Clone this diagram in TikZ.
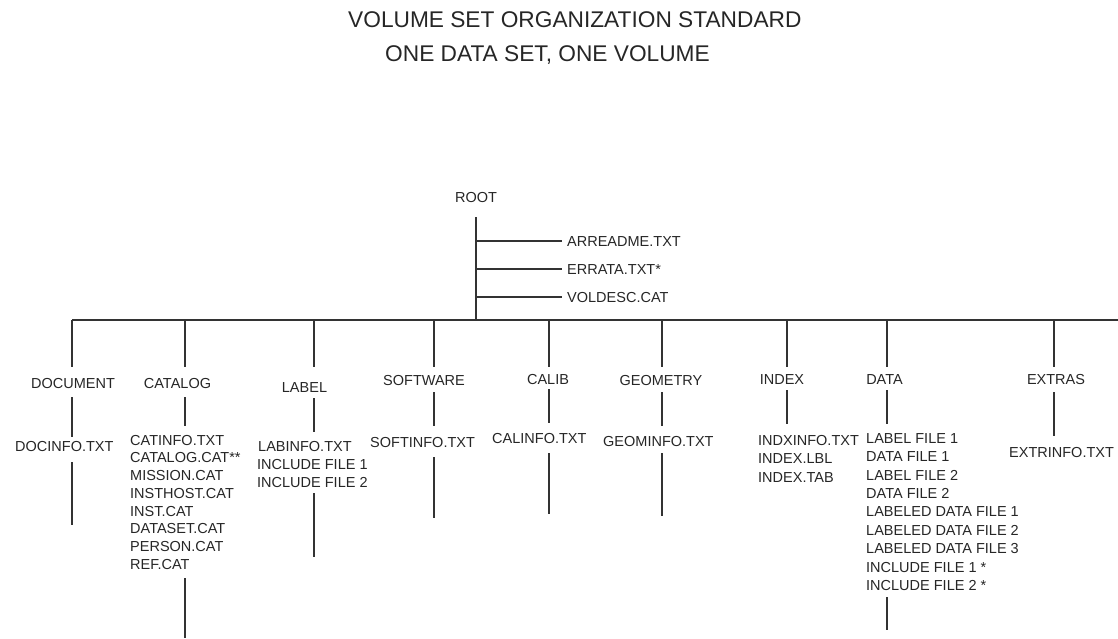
\documentclass[tikz,border=0pt]{standalone}
\usepackage{fontspec}
\setmainfont{Liberation Sans}
\begin{document}
\begin{tikzpicture}[x=1pt,y=-1pt,
  ink/.style={black!85},
  wire/.style={draw=black!80, line width=1.2pt},
  txt/.style={font=\fontsize{14.5}{17}\selectfont, text=black!85, inner sep=0pt, text height=10.4pt, text depth=0pt},
  ttl/.style={font=\fontsize{22.7}{26}\selectfont, text=black!85, inner sep=0pt, anchor=base west},
  fl/.style={txt, anchor=west}]
\useasboundingbox (0,0) rectangle (1118,639);
% title
\node[ttl] (t1) at (348,28) {VOLUME SET ORGANIZATION STANDARD};
\node[ttl] (t2) at (385,62) {ONE DATA SET, ONE VOLUME};
% root
\node[txt] (ROOT) at (476,197) {ROOT};
\coordinate (rb) at (476,320);
\draw[wire, shorten <=14.8pt] (ROOT.south) -- (rb);
\node[fl] (AR) at (567,241) {ARREADME.TXT};
\node[fl] (ER) at (567,269) {ERRATA.TXT*};
\node[fl] (VO) at (567,297) {VOLDESC.CAT};
\coordinate (r1) at (476,241);
\coordinate (r2) at (476,269);
\coordinate (r3) at (476,297);
\draw[wire, shorten >=5pt] (r1) -- (AR.west);
\draw[wire, shorten >=5pt] (r2) -- (ER.west);
\draw[wire, shorten >=5pt] (r3) -- (VO.west);
% bus
\coordinate (bL) at (72,320);
\coordinate (bR) at (1118,320);
\draw[wire] (bL) -- (bR);
% column bus points
\coordinate (cDOC) at (72,320);
\coordinate (cCAT) at (185,320);
\coordinate (cLAB) at (314,320);
\coordinate (cSOF) at (434,320);
\coordinate (cCAL) at (549,320);
\coordinate (cGEO) at (662,320);
\coordinate (cIND) at (787,320);
\coordinate (cDAT) at (887,320);
\coordinate (cEXT) at (1054,320);
% labels
\node[txt] (DOC) at (73,383) {DOCUMENT};
\node[txt] (CAT) at (177.5,383) {CATALOG};
\node[txt] (LAB) at (304.5,387) {LABEL};
\node[txt] (SOF) at (424,380) {SOFTWARE};
\node[txt] (CAL) at (548,379) {CALIB};
\node[txt] (GEO) at (661,380) {GEOMETRY};
\node[txt] (IND) at (782,379) {INDEX};
\node[txt] (DAT) at (884.5,379) {DATA};
\node[txt] (EXT) at (1056,379) {EXTRAS};
% files
\node[fl] (doc1) at (15,446) {DOCINFO.TXT};
\foreach \t [count=\i from 0] in {CATINFO.TXT,CATALOG.CAT**,MISSION.CAT,INSTHOST.CAT,INST.CAT,DATASET.CAT,PERSON.CAT,REF.CAT}
  \node[fl] (cat\i) at (130,440+17.7*\i) {\t};
\node[fl] (lab0) at (258,446) {LABINFO.TXT};
\node[fl] (lab1) at (257,464) {INCLUDE FILE 1};
\node[fl] (lab2) at (257,482) {INCLUDE FILE 2};
\node[fl] (sof0) at (370,442) {SOFTINFO.TXT};
\node[fl] (cal0) at (492,438) {CALINFO.TXT};
\node[fl] (geo0) at (603,441) {GEOMINFO.TXT};
\node[fl] (ind0) at (758,440) {INDXINFO.TXT};
\node[fl] (ind1) at (758,458) {INDEX.LBL};
\node[fl] (ind2) at (758,477) {INDEX.TAB};
\foreach \t [count=\i from 0] in {LABEL FILE 1,DATA FILE 1,LABEL FILE 2,DATA FILE 2,LABELED DATA FILE 1,LABELED DATA FILE 2,LABELED DATA FILE 3,INCLUDE FILE 1 *,INCLUDE FILE 2 *}
  \node[fl] (dat\i) at (866,438+18.4*\i) {\t};
\node[fl] (ext0) at (1009,452) {EXTRINFO.TXT};
% free ends
\coordinate (eDOC) at (72,525);
\coordinate (eCAT) at (185,638);
\coordinate (eLAB) at (314,557);
\coordinate (eSOF) at (434,518);
\coordinate (eCAL) at (549,514);
\coordinate (eGEO) at (662,516);
\coordinate (eDAT) at (887,630);
% DOCUMENT
\draw[wire, shorten >=10.8pt] (cDOC) -- (cDOC |- DOC.north);
\draw[wire, shorten <=8.8pt, shorten >=3.8pt] (cDOC |- DOC.south) -- (cDOC |- doc1.north);
\draw[wire, shorten <=10.8pt] (cDOC |- doc1.south) -- (eDOC);
% CATALOG
\draw[wire, shorten >=10.8pt] (cCAT) -- (cCAT |- CAT.north);
\draw[wire, shorten <=8.8pt, shorten >=8.8pt] (cCAT |- CAT.south) -- (cCAT |- cat0.north);
\draw[wire, shorten <=8.9pt] (cCAT |- cat7.south) -- (eCAT);
% LABEL
\draw[wire, shorten >=14.8pt] (cLAB) -- (cLAB |- LAB.north);
\draw[wire, shorten <=5.8pt, shorten >=8.8pt] (cLAB |- LAB.south) -- (cLAB |- lab0.north);
\draw[wire, shorten <=5.8pt] (cLAB |- lab2.south) -- (eLAB);
% SOFTWARE
\draw[wire, shorten >=7.8pt] (cSOF) -- (cSOF |- SOF.north);
\draw[wire, shorten <=6.8pt, shorten >=10.8pt] (cSOF |- SOF.south) -- (cSOF |- sof0.north);
\draw[wire, shorten <=9.8pt] (cSOF |- sof0.south) -- (eSOF);
% CALIB
\draw[wire, shorten >=6.8pt] (cCAL) -- (cCAL |- CAL.north);
\draw[wire, shorten <=4.8pt, shorten >=9.8pt] (cCAL |- CAL.south) -- (cCAL |- cal0.north);
\draw[wire, shorten <=9.8pt] (cCAL |- cal0.south) -- (eCAL);
% GEOMETRY
\draw[wire, shorten >=7.8pt] (cGEO) -- (cGEO |- GEO.north);
\draw[wire, shorten <=6.8pt, shorten >=9.8pt] (cGEO |- GEO.south) -- (cGEO |- geo0.north);
\draw[wire, shorten <=6.8pt] (cGEO |- geo0.south) -- (eGEO);
% INDEX
\draw[wire, shorten >=6.8pt] (cIND) -- (cIND |- IND.north);
\draw[wire, shorten <=5.8pt, shorten >=10.8pt] (cIND |- IND.south) -- (cIND |- ind0.north);
% DATA
\draw[wire, shorten >=6.8pt] (cDAT) -- (cDAT |- DAT.north);
\draw[wire, shorten <=5.8pt, shorten >=8.8pt] (cDAT |- DAT.south) -- (cDAT |- dat0.north);
\draw[wire, shorten <=6.6pt] (cDAT |- dat8.south) -- (eDAT);
% EXTRAS
\draw[wire, shorten >=6.8pt] (cEXT) -- (cEXT |- EXT.north);
\draw[wire, shorten <=7.8pt, shorten >=10.8pt] (cEXT |- EXT.south) -- (cEXT |- ext0.north);
\end{tikzpicture}
\end{document}
